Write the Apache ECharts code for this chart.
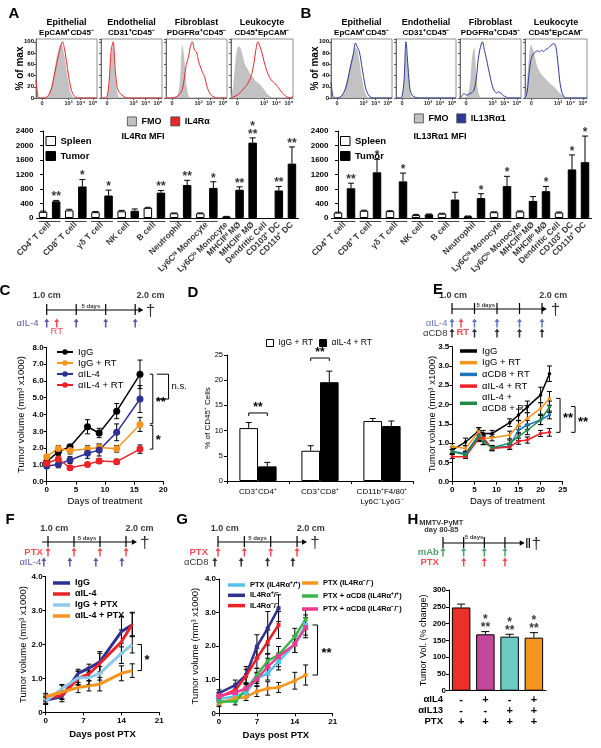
<!DOCTYPE html>
<html>
<head>
<meta charset="utf-8">
<script src="https://cdn.jsdelivr.net/npm/echarts@6.0.0/dist/echarts.min.js"></script>
<style>html,body{margin:0;padding:0;background:#fff;}#chart{width:601px;height:748px;}</style>
</head>
<body>
<div id="chart"></div>
<script>
// ================= DATA =================
// Panels A / B : flow histograms, 31 bins along the display axis, % of max
const histTickBins = [3, 16, 22, 28];
const histTickLabels = ['0', '10³', '10⁴', '10⁵'];
const histTitles1 = ['Epithelial', 'Endothelial', 'Fibroblast', 'Leukocyte'];
const histTitles2 = ['EpCAM⁺CD45⁻', 'CD31⁺CD45⁻', 'PDGFRα⁺CD45⁻', 'CD45⁺EpCAM⁻'];

const fmoA_epi  = [0,0,0,0,0,2,6,15,30,50,70,85,95,92,75,50,28,10,3,0,0,0,0,0,0,0,0,0,0,0,0];
const il4A_epi  = [32,2,0,0,0,1,4,10,22,40,58,75,90,100,88,65,40,20,8,3,1,0,0,0,0,0,0,0,0,0,0];
const fmoA_endo = [0,0,0,2,20,75,95,40,8,1,0,0,0,0,0,0,0,0,0,0,0,0,0,0,0,0,0,0,0,0,0];
const il4A_endo = [0,0,0,3,30,85,100,50,18,10,6,3,1,0,0,0,0,0,0,0,0,0,0,0,0,0,0,0,0,0,0];
const fmoA_fib  = [0,0,0,0,0,2,8,35,95,70,25,5,0,0,0,0,0,0,0,0,0,0,0,0,0,0,0,0,0,0,0];
const il4A_fib  = [0,0,0,0,1,2,4,8,15,35,60,72,92,100,85,82,65,55,45,38,22,12,6,3,1,0,0,0,0,0,0];
const fmoA_leu  = [0,20,60,88,92,85,70,58,52,45,40,35,30,27,24,20,15,10,6,3,1,0,0,0,0,0,0,0,0,0,0];
const il4A_leu  = [0,2,3,5,8,12,16,20,25,32,42,60,85,100,92,80,65,52,42,35,30,27,23,18,13,8,5,2,1,0,4];

const fmoB_epi   = [0,0,0,0,1,4,10,20,35,52,68,82,90,85,65,40,20,8,2,0,0,0,0,0,0,0,0,0,0,0,0];
const il13B_epi  = [28,2,0,0,1,3,8,15,28,45,62,78,98,90,82,60,38,18,8,3,1,0,0,0,0,0,0,0,0,0,0];
const fmoB_endo  = [0,0,0,2,25,85,60,10,1,0,0,0,0,0,0,0,0,0,0,0,0,0,0,0,0,0,0,0,0,0,0];
const il13B_endo = [2,0,0,3,30,100,55,15,5,2,1,0,0,0,0,0,0,0,0,0,0,0,0,0,0,0,0,0,0,0,0];
const fmoB_fib   = [0,0,0,2,8,30,75,90,40,10,2,0,0,0,0,0,0,0,0,0,0,0,0,0,0,0,0,0,0,0,0];
const il13B_fib  = [0,4,8,5,6,8,10,15,35,70,90,100,85,70,52,35,20,12,9,11,9,5,3,1,0,0,0,0,0,0,0];
const fmoB_leu   = [0,30,75,95,85,70,55,48,42,38,34,30,26,23,20,16,12,8,5,2,0,0,0,0,0,0,0,0,0,0,0];
const il13B_leu  = [0,10,45,70,78,82,84,82,85,83,86,88,92,95,97,90,60,25,8,2,0,0,0,0,0,0,0,0,0,0,0];

// Panels A / B : MFI bars
const cellTypes = ['CD4⁺ T cell','CD8⁺ T cell','γδ T cell','NK cell','B cell','Neutrophil','Ly6Cʰⁱ Monocyte','Ly6Cˡᵒ Monocyte','MHCIIʰⁱ MØ','MHCIIˡᵒ MØ','Dendritic Cell','CD103⁺ DC','CD11b⁺ DC'];
const mfiTicks = [0, 400, 800, 1200, 1600, 2000, 2400];
const aSpleen    = [170,210,160,185,280,130,130,40,null,null,null,null,null];
const aSpleenErr = [20,30,20,25,15,10,10,5,null,null,null,null,null];
const aTumor     = [460,870,620,200,700,910,830,null,780,2080,null,760,1500];
const aTumorErr  = [25,190,150,50,60,130,170,null,80,130,null,110,460];
const aStars     = ['**','*','*','','**','**','*','','**','*\n**','','**','**'];
const bSpleen    = [150,200,190,80,120,50,160,180,null,null,150,null,null];
const bSpleenErr = [10,15,10,20,10,5,10,15,null,null,15,null,null];
const bTumor     = [820,1260,1010,100,510,550,880,null,470,740,null,1340,1540];
const bTumorErr  = [140,360,230,10,200,120,270,null,120,130,null,400,720];
const bStars     = ['**','*','*','','','*','*','','','*','','*','*'];

// Panel C
const cDays = [0,2,4,7,9,12,16];
const cIgG = [1.19,1.79,2.08,3.27,2.9,4.2,6.39];     const cIgGErr = [0.15,0.2,0.12,0.42,0.28,0.45,0.85];
const cIgGRT = [1.49,1.98,1.85,1.94,2.04,1.96,3.41]; const cIgGRTErr = [0.12,0.18,0.2,0.2,0.2,0.2,0.42];
const cAIL4 = [0.93,1.03,1.29,1.69,1.88,2.94,4.92];  const cAIL4Err = [0.12,0.2,0.2,0.3,0.35,0.5,0.8];
const cAIL4RT = [1.1,1.35,0.83,1.03,1.23,1.19,1.94]; const cAIL4RTErr = [0.15,0.2,0.12,0.08,0.15,0.15,0.25];
const cSig = [[20.9,6.4,4.92,'n.s.'],[18.2,6.4,3.45,'**'],[18.2,3.35,1.94,'*']];

// Panel D
const dCats = ['CD3⁺CD4⁺','CD3⁺CD8⁺','CD11b⁺F4/80⁺\nLy6C⁻Ly6G⁻'];
const dIgGRT = [10.5,6.0,11.9];  const dIgGRTErr = [1.1,1.0,0.5];
const dAIL4RT = [2.9,19.6,10.9]; const dAIL4RTErr = [0.8,2.2,1.0];
const dSigText = ['**','**',''];
const dSigLevel = [13.5,24.4,null];

// Panel E
const eDays = [0,3,6,7,9,13,15,17,20,22];
const eIgG = [0.82,1.03,1.32,1.25,1.25,1.53,1.73,1.94,2.25,2.8];
const eIgGErr = [0.08,0.1,0.08,0.08,0.08,0.1,0.15,0.15,0.2,0.2];
const eIgGRT = [0.91,0.86,1.3,1.12,1.14,1.21,1.47,1.64,1.9,2.16];
const eIgGRTErr = [0.08,0.08,0.1,0.08,0.08,0.1,0.12,0.15,0.15,0.18];
const eCD8RT = [0.78,0.73,1.21,1.04,0.88,0.92,1.34,1.47,1.6,1.73];
const eCD8RTErr = [0.06,0.06,0.1,0.08,0.06,0.08,0.1,0.12,0.12,0.1];
const eIL4RT = [0.65,0.65,1.12,1.14,0.86,0.9,1.05,1.08,1.25,1.28];
const eIL4RTErr = [0.05,0.05,0.08,0.08,0.06,0.06,0.08,0.08,0.08,0.1];
const eIL4CD8RT = [0.78,0.7,1.17,1.04,0.88,1.0,1.17,1.34,1.6,1.94];
const eIL4CD8RTErr = [0.06,0.06,0.1,0.08,0.06,0.08,0.1,0.12,0.12,0.15];
const eSig = [[24.4,2.16,1.28,'**'],[27.8,1.95,1.28,'**']];

// Panel F
const fDays = [0,3,6,8,10,14,16];
const fIgG = [0.36,0.46,1.15,1.3,1.49,2.38,2.58];   const fIgGErr = [0.1,0.15,0.12,0.12,0.3,0.45,0.35];
const fAIL4 = [0.41,0.5,1.0,1.13,1.44,2.08,2.6];    const fAIL4Err = [0.1,0.12,0.2,0.2,0.3,0.35,0.35];
const fIgGPTX = [0.33,0.7,1.02,1.02,1.15,1.74,2.0];  const fIgGPTXErr = [0.1,0.12,0.2,0.2,0.2,0.3,0.25];
const fAIL4PTX = [0.46,0.6,0.73,0.78,0.83,1.15,1.23]; const fAIL4PTXErr = [0.1,0.2,0.15,0.15,0.2,0.22,0.2];
const fSig = [[17.7,2.0,1.23,'*']];

// Panel G
const gDays = [0,3,5,7,9,11,14,16];
const gPTXwt = [0.43,0.5,0.62,1.04,1.19,1.54,2.06,2.63];   const gPTXwtErr = [0.1,0.1,0.15,0.15,0.2,0.25,0.25,0.3];
const gHet = [0.6,0.84,1.14,1.99,2.53,3.13];               const gHetErr = [0.1,0.15,0.25,0.35,0.5,0.4];
const gKO = [0.48,0.69,1.11,1.64,2.13,2.63];               const gKOErr = [0.1,0.1,0.2,0.3,0.35,0.4];
const gPTXko = [0.3,0.45,0.48,0.65,0.74,0.77,0.97,1.14];   const gPTXkoErr = [0.1,0.1,0.1,0.15,0.2,0.15,0.25,0.3];
const gPTXCD8wt = [0.35,0.35,0.71,1.14,1.56,1.74,2.28,2.8]; const gPTXCD8wtErr = [0.1,0.1,0.15,0.2,0.2,0.25,0.25,0.28];
const gPTXCD8ko = [0.52,0.62,0.74,1.02,1.39,1.69,2.06,2.55]; const gPTXCD8koErr = [0.1,0.1,0.15,0.2,0.25,0.3,0.25,0.3];
const gSig = [[18.2,2.63,1.14,'**']];

// Panel H
const hGroups = ['IgG','αIL4','αIL13','αIL4 + αIL13'];
const hVals = [248,168,161,158];
const hErr = [10,8,7,15];
const hStars = ['','*\n**','*\n**','*\n**'];
const hRowNames = ['αIL4','αIL13','PTX'];
const hRowIL4 = ['-','+','-','+'];
const hRowIL13 = ['-','-','+','+'];
const hRowPTX = ['+','+','+','+'];

// ================= STYLE / BUILD =================
const FONT = '"Liberation Sans", Arial, Helvetica, sans-serif';
const C_RED = '#ec2227', C_DBLUE = '#2e3192', C_ORANGE = '#f7941d', C_BLUE = '#1c75bc',
      C_GREEN = '#1f8a45', C_LBLUE = '#8ecae9', C_CYAN = '#55c2ec', C_LGREEN = '#3ab54a', C_PINK = '#ec3c90';
const hColors = ['#e8312a','#c4479b','#6cc9c3','#f7941d'];
const ARROW = 'path://M5,0 L10,6 L6.5,6 L6.5,16 L3.5,16 L3.5,6 L0,6 Z';

const option = {animation:false, backgroundColor:'#ffffff', textStyle:{fontFamily:FONT},
  grid:[], xAxis:[], yAxis:[], series:[], legend:[], graphic:[]};
const AXL = {show:true, lineStyle:{color:'#000', width:1}};
const TICK = {show:true, length:3, inside:false, lineStyle:{color:'#000', width:1}};
function F(size, bold, color){ return {fontSize:size, fontWeight:bold?'bold':'normal', color:color||'#000', fontFamily:FONT}; }
function addGrid(l,t,w,h,extra){ option.grid.push(Object.assign({left:l, top:t, width:w, height:h, outerBoundsMode:'none', containLabel:false}, extra||{})); return option.grid.length-1; }
function addX(o){ option.xAxis.push(Object.assign({nameMoveOverlap:false}, o)); return option.xAxis.length-1; }
function addY(o){ option.yAxis.push(Object.assign({nameMoveOverlap:false}, o)); return option.yAxis.length-1; }
function addS(o){ option.series.push(o); return o; }
function gtext(x,y,t,size,bold,color,align){
  option.graphic.push({type:'text', x:x, y:y, silent:true,
    style:{text:t, font:(bold?'bold ':'')+size+'px '+FONT, fill:color||'#000', align:align||'center', verticalAlign:'middle'}});
}
function errBars(xi, yi, pts, o){
  addS({type:'custom', xAxisIndex:xi, yAxisIndex:yi, z:o.z||4, clip:false, silent:true, encode:{x:0, y:1},
    data: pts,
    renderItem:(params, api)=>{
      const x=api.value(0), y=api.value(1), e=api.value(2);
      const top=api.coord([x, y+e]); const bot=api.coord([x, o.up ? y : y-e]);
      const dx = o.dx ? o.dx(api) : 0;
      const cx = top[0]+dx, w=o.cap;
      const st={stroke:o.color||'#000', lineWidth:o.lw||1};
      const ch=[{type:'line', shape:{x1:cx,y1:bot[1],x2:cx,y2:top[1]}, style:st},
                {type:'line', shape:{x1:cx-w,y1:top[1],x2:cx+w,y2:top[1]}, style:st}];
      if(!o.up) ch.push({type:'line', shape:{x1:cx-w,y1:bot[1],x2:cx+w,y2:bot[1]}, style:st});
      return {type:'group', children:ch};
    }});
}
function vBrackets(xi, yi, items, o){
  addS({type:'custom', xAxisIndex:xi, yAxisIndex:yi, clip:false, silent:true, z:6, encode:{x:0, y:[1,2]},
    data: items.map(it=>[it[0],it[1],it[2]]),
    renderItem:(params, api)=>{
      const it = items[params.dataIndex];
      const p1 = api.coord([api.value(0), api.value(1)]), p2 = api.coord([api.value(0), api.value(2)]);
      const arm = o.arms[params.dataIndex];
      const star = it[3].indexOf('*') >= 0;
      return {type:'group', children:[
        {type:'polyline', shape:{points:[[p1[0]-arm,p1[1]],[p1[0],p1[1]],[p2[0],p2[1]],[p2[0]-arm,p2[1]]]}, style:{stroke:'#000', lineWidth:1, fill:null}},
        {type:'text', style:{text:it[3], x:p1[0]+o.gap, y:(p1[1]+p2[1])/2 + (star?3:0),
          font:(star?'bold 13px ':'9.5px ')+FONT, fill:'#000', align:'left', verticalAlign:'middle'}}
      ]};
    }});
}

// ---------- Histograms ----------
function histPanel(boxes, pairs, lineColor, lineName){
  boxes.forEach((b,k)=>{
    const gi = addGrid(b[0], 39, b[1]-b[0], 59, {show:true, borderColor:'#777', borderWidth:0.8});
    const xi = addX({gridIndex:gi, type:'category', boundaryGap:false, data:pairs[k][0].map((_,i)=>String(i)),
      axisLine:{show:true, lineStyle:{color:'#555', width:0.8}},
      axisTick:{show:true, length:2, interval:(i)=>histTickBins.includes(i), lineStyle:{color:'#555'}},
      axisLabel:Object.assign(F(5.5,true,'#222'), {show:true, margin:2, interval:(i)=>histTickBins.includes(i),
        formatter:(v,i)=>histTickLabels[histTickBins.indexOf(i)] || ''}),
      splitLine:{show:false}});
    const yi = addY({gridIndex:gi, type:'value', min:0, max:105, interval:20,
      axisLine:{show:true, lineStyle:{color:'#555', width:0.8}}, axisTick:{show:true, length:2, lineStyle:{color:'#555'}},
      axisLabel:Object.assign(F(6,true), {show:k===0, margin:2, showMaxLabel:false}), splitLine:{show:false},
      name: k===0 ? '% of max' : '', nameLocation:'middle', nameGap:11, nameTextStyle:F(10,true)});
    addS({type:'line', name:'FMO', xAxisIndex:xi, yAxisIndex:yi, data:pairs[k][0], showSymbol:false, smooth:0.3, silent:true,
      lineStyle:{width:0, color:'#c2c2c2'}, itemStyle:{color:'#c2c2c2'}, areaStyle:{color:'#c2c2c2', opacity:1}, z:2});
    addS({type:'line', name:lineName, xAxisIndex:xi, yAxisIndex:yi, data:pairs[k][1], showSymbol:false, smooth:0.3, silent:true,
      lineStyle:{width:1, color:lineColor}, itemStyle:{color:lineColor}, z:3});
  });
}
const boxesA = [[36,97],[101,162],[166,227],[231,293]];
const boxesB = [[331,392],[396,456],[460,521],[525,587]];
histPanel(boxesA, [[fmoA_epi,il4A_epi],[fmoA_endo,il4A_endo],[fmoA_fib,il4A_fib],[fmoA_leu,il4A_leu]], '#e8272d', 'IL4Rα');
histPanel(boxesB, [[fmoB_epi,il13B_epi],[fmoB_endo,il13B_endo],[fmoB_fib,il13B_fib],[fmoB_leu,il13B_leu]], '#2b3a9a', 'IL13Rα1');
[boxesA, boxesB].forEach(bx=>bx.forEach((b,k)=>{
  gtext((b[0]+b[1])/2, 23, histTitles1[k], 9, true);
  gtext((b[0]+b[1])/2, 33, histTitles2[k], 8, true);
}));
option.legend.push({left:122, top:111.5, itemWidth:9, itemHeight:9, itemGap:9, selectedMode:false,
  data:[{name:'FMO', icon:'rect', itemStyle:{color:'#c2c2c2', borderColor:'#444', borderWidth:0.8}},
        {name:'IL4Rα', icon:'rect', itemStyle:{color:'#e8272d', borderColor:'#444', borderWidth:0.8}}],
  textStyle:F(9,true)});
option.legend.push({left:409, top:108.5, itemWidth:9, itemHeight:9, itemGap:8, selectedMode:false,
  data:[{name:'FMO', icon:'rect', itemStyle:{color:'#c2c2c2', borderColor:'#444', borderWidth:0.8}},
        {name:'IL13Rα1', icon:'rect', itemStyle:{color:'#2b3a9a', borderColor:'#444', borderWidth:0.8}}],
  textStyle:F(9,true)});

// ---------- MFI bar panels ----------
function slotsOf(sp, tu){
  let s=0; const out=[];
  sp.forEach((v,i)=>{
    const both = v!=null && tu[i]!=null;
    if(both){ out.push({cat:i, sp:s, tu:s+1, center:s+0.5, pair:true}); s+=2; }
    else { out.push({cat:i, sp:s, tu:s, center:s, pair:false}); s+=1; }
  });
  return {list:out, n:s};
}
function mfiPanel(left, width, sp, spE, tu, tuE, stars, legendLeft){
  const S = slotsOf(sp, tu);
  const gi = addGrid(left, 131, width, 87);
  const xi = addX({gridIndex:gi, type:'value', min:-0.5, max:S.n-0.5, axisLine:AXL, axisTick:{show:false}, axisLabel:{show:false}, splitLine:{show:false}});
  const yi = addY({gridIndex:gi, type:'value', min:mfiTicks[0], max:mfiTicks[mfiTicks.length-1], interval:mfiTicks[1]-mfiTicks[0],
    axisLine:AXL, axisTick:TICK, axisLabel:Object.assign(F(8,true), {margin:3, formatter:(v)=>String(v)}), splitLine:{show:false}});
  const spData = S.list.filter(o=>sp[o.cat]!=null).map(o=>[o.sp, sp[o.cat]]);
  const tuData = S.list.filter(o=>tu[o.cat]!=null).map(o=>[o.tu, tu[o.cat]]);
  addS({type:'bar', name:'Spleen', xAxisIndex:xi, yAxisIndex:yi, data:spData, barWidth:8.5, barGap:'-100%', silent:true,
    itemStyle:{color:'#ffffff', borderColor:'#000', borderWidth:1}});
  addS({type:'bar', name:'Tumor', xAxisIndex:xi, yAxisIndex:yi, data:tuData, barWidth:8.5, barGap:'-100%', silent:true,
    itemStyle:{color:'#000', borderColor:'#000', borderWidth:1}});
  errBars(xi, yi, S.list.filter(o=>sp[o.cat]!=null).map(o=>[o.sp, sp[o.cat], spE[o.cat]]), {up:true, cap:3});
  errBars(xi, yi, S.list.filter(o=>tu[o.cat]!=null).map(o=>[o.tu, tu[o.cat], tuE[o.cat]]), {up:true, cap:3});
  addS({type:'scatter', xAxisIndex:xi, yAxisIndex:yi, symbolSize:1, itemStyle:{color:'rgba(0,0,0,0)'}, clip:false, silent:true, z:7,
    data:S.list.filter(o=>tu[o.cat]!=null && stars[o.cat]).map(o=>({value:[o.tu, tu[o.cat]+tuE[o.cat]], label:{formatter:stars[o.cat]}})),
    label:{show:true, position:'top', distance:-1, fontSize:12, fontWeight:'bold', color:'#000', lineHeight:8, align:'center'}});
  addS({type:'custom', xAxisIndex:xi, yAxisIndex:yi, clip:false, silent:true, encode:{x:[0,1], y:2},
    data:S.list.filter(o=>o.pair).map(o=>[o.sp, o.tu, 0]),
    renderItem:(p, api)=>{
      const a=api.coord([api.value(0)-0.33, 0]), b=api.coord([api.value(1)+0.33, 0]);
      return {type:'line', shape:{x1:a[0], y1:a[1]+3.5, x2:b[0], y2:b[1]+3.5}, style:{stroke:'#444', lineWidth:1}};
    }});
  addS({type:'scatter', xAxisIndex:xi, yAxisIndex:yi, symbolSize:1, itemStyle:{color:'rgba(0,0,0,0)'}, clip:false, silent:true,
    data:S.list.map(o=>({value:[o.center, 0], label:{formatter:cellTypes[o.cat]}})),
    label:{show:true, position:'bottom', distance:5, rotate:45, align:'right', verticalAlign:'middle', fontSize:8.5, fontWeight:'bold', color:'#000'}});
  option.legend.push({left:legendLeft, top:131, orient:'vertical', itemWidth:9.5, itemHeight:9, itemGap:5, selectedMode:false,
    data:[{name:'Spleen', icon:'rect', itemStyle:{color:'#fff', borderColor:'#000', borderWidth:1}},
          {name:'Tumor', icon:'rect', itemStyle:{color:'#000', borderColor:'#000', borderWidth:1}}],
    textStyle:Object.assign(F(9.5,true), {lineHeight:10})});
}
mfiPanel(36.5, 262, aSpleen, aSpleenErr, aTumor, aTumorErr, aStars, 40.5);
mfiPanel(331.5, 260, bSpleen, bSpleenErr, bTumor, bTumorErr, bStars, 335);
gtext(143, 137, 'IL4Rα MFI', 9, true);
gtext(440, 137, 'IL13Rα1 MFI', 9, true);

// ---------- Timelines ----------
function timeline(t){
  const left = t.x0 + t.dMin*t.ppd, width=(t.dMax-t.dMin)*t.ppd;
  const gi = addGrid(left, t.lineY-25, width, 50);
  const xi = addX({gridIndex:gi, type:'value', min:t.dMin, max:t.dMax, show:false, splitLine:{show:false}});
  const yi = addY({gridIndex:gi, type:'value', min:-25, max:25, inverse:true, show:false, splitLine:{show:false}});
  addS({type:'custom', xAxisIndex:xi, yAxisIndex:yi, clip:false, silent:true, encode:{x:[0,1], y:2},
    data:[[t.from, t.to, 0]],
    renderItem:(p, api)=>{
      const a=api.coord([api.value(0),0]), b=api.coord([api.value(1),0]);
      return {type:'group', children:[
        {type:'line', shape:{x1:a[0],y1:a[1],x2:b[0]-2,y2:b[1]}, style:{stroke:'#000', lineWidth:1.2}},
        {type:'polygon', shape:{points:[[b[0],b[1]],[b[0]-5,b[1]-2.8],[b[0]-5,b[1]+2.8]]}, style:{fill:'#000'}}
      ]};
    }});
  const tickSeries = (list, up, dn)=>addS({type:'custom', xAxisIndex:xi, yAxisIndex:yi, clip:false, silent:true, encode:{x:0, y:1},
    data:list.map(d=>[d,0]),
    renderItem:(p, api)=>{ const a=api.coord([api.value(0),0]);
      return {type:'line', shape:{x1:a[0],y1:a[1]-up,x2:a[0],y2:a[1]+dn}, style:{stroke:'#000', lineWidth:1.2}}; }});
  tickSeries(t.ticks, 6, 5);
  if(t.breaks) tickSeries(t.breaks, 5, 5);
  t.rows.forEach(r=>addS({type:'scatter', xAxisIndex:xi, yAxisIndex:yi, clip:false, silent:true, symbol:ARROW, symbolSize:[5,9],
    itemStyle:{color:r.color}, data:r.days.map(d=>[d, r.off])}));
  addS({type:'scatter', xAxisIndex:xi, yAxisIndex:yi, clip:false, silent:true, symbolSize:1, itemStyle:{color:'rgba(0,0,0,0)'},
    data:t.texts.map(o=>({value:[o.d,o.off], label:{show:true, position:'inside', formatter:o.t, color:o.color||'#000',
      fontSize:o.size||9, fontWeight:o.w||'bold', align:o.align||'center', verticalAlign:'middle', fontFamily:FONT}})),
    label:{show:true}});
}
timeline({x0:46.7, ppd:5.9, dMin:-6, dMax:20, lineY:310, from:0, to:16.4, ticks:[0,5,10,15],
  rows:[{color:C_DBLUE, days:[0,5,10,15], off:13}, {color:C_RED, days:[1.7], off:13}],
  texts:[{t:'1.0 cm', d:0, off:-14}, {t:'2.0 cm', d:17.6, off:-14}, {t:'5 days', d:7.5, off:-4, size:6},
    {t:'†', d:17.6, off:1, size:17, w:'normal'},
    {t:'αIL-4', d:-1.4, off:13, align:'right', color:C_DBLUE, w:'normal', size:9.5},
    {t:'RT', d:1.7, off:21, color:C_RED, w:'normal', size:9.5}]});
timeline({x0:452, ppd:4.5, dMin:-8, dMax:24, lineY:309, from:0, to:21.1, ticks:[0,5,10,15,20],
  rows:[{color:'#3a56a8', days:[0,5,10,15,20], off:14}, {color:C_RED, days:[2], off:14}, {color:'#000', days:[0,5,10,15,20], off:24}],
  texts:[{t:'1.0 cm', d:0.2, off:-13}, {t:'2.0 cm', d:22.5, off:-13}, {t:'5 days', d:7.5, off:-4, size:6},
    {t:'†', d:23, off:1, size:17, w:'normal'},
    {t:'αIL-4', d:-1, off:14, align:'right', color:'#3a56a8', w:'normal', size:9.5},
    {t:'αCD8', d:-1, off:24, align:'right', w:'normal', size:9.5},
    {t:'RT', d:2.4, off:23, color:C_RED, w:'bold', size:9.5}]});
timeline({x0:48, ppd:5.2, dMin:-6, dMax:20, lineY:542, from:-1.15, to:17.1, ticks:[0,5,10,15],
  rows:[{color:C_RED, days:[0,5,10,15], off:10}, {color:C_DBLUE, days:[-0.8,4.2,9.2,14.2], off:20}],
  texts:[{t:'1.0 cm', d:1.2, off:-13}, {t:'2.0 cm', d:17.6, off:-13}, {t:'5 days', d:7.5, off:-4, size:6},
    {t:'†', d:18.6, off:1, size:17, w:'normal'},
    {t:'PTX', d:-1, off:10, align:'right', color:C_RED, size:9.5},
    {t:'αIL-4', d:-1.3, off:20, align:'right', color:C_DBLUE, w:'normal', size:9.5}]});
timeline({x0:218, ppd:5.27, dMin:-7, dMax:20, lineY:542, from:0, to:16.9, ticks:[0,5,10,15],
  rows:[{color:C_RED, days:[0,5,10,15], off:10}, {color:'#000', days:[-0.6,4.4,9.4,14.2], off:20}],
  texts:[{t:'1.0 cm', d:1.3, off:-13}, {t:'2.0 cm', d:17.6, off:-13}, {t:'5 days', d:7.5, off:-4, size:6},
    {t:'†', d:18.4, off:1, size:17, w:'normal'},
    {t:'PTX', d:-1.9, off:10, align:'right', color:C_RED, size:9.5},
    {t:'αCD8', d:-1.8, off:20, align:'right', w:'normal', size:9.5}]});
timeline({x0:443, ppd:4.13, dMin:-6, dMax:24, lineY:543, from:0, to:19.8, ticks:[0,5,10,15], breaks:[20.3,20.9],
  rows:[{color:C_GREEN, days:[0,5,10,15], off:9}, {color:C_RED, days:[5,10,15], off:19}],
  texts:[{t:'MMTV-PyMT', d:-0.4, off:-20, size:7.5}, {t:'day 80-85', d:-0.4, off:-13, size:7.5},
    {t:'5 days', d:7.5, off:-6, size:6}, {t:'†', d:22.6, off:1, size:17, w:'normal'},
    {t:'mAb', d:-1, off:9, align:'right', color:C_GREEN, size:9.5},
    {t:'PTX', d:-1, off:19, align:'right', color:C_RED, size:9.5}]});

// ---------- Line panels ----------
function linePanel(p){
  const gi = addGrid(p.left, p.top, p.width, p.height);
  const xi = addX({gridIndex:gi, type:'value', min:p.xMin, max:p.xMax, interval:p.xInt, axisLine:AXL, axisTick:TICK,
    axisLabel:Object.assign(F(8,true), {margin:4}), splitLine:{show:false},
    name:p.xName, nameLocation:'middle', nameGap:p.xNameGap, nameTextStyle:F(p.xNameSize||9.5, !!p.xNameBold)});
  const yi = addY({gridIndex:gi, type:'value', min:p.yMin, max:p.yMax, interval:p.yInt, axisLine:AXL, axisTick:TICK,
    axisLabel:Object.assign(F(8,true), {margin:3, formatter:p.yFmt}), splitLine:{show:false},
    name:p.yName, nameLocation:'middle', nameGap:p.yNameGap, nameTextStyle:F(9.5,false)});
  const colorOf = {};
  p.series.forEach(s=>{
    colorOf[s.name] = s.color;
    addS({type:'line', name:s.name, xAxisIndex:xi, yAxisIndex:yi, data:s.x.map((d,i)=>[d, s.y[i]]), silent:true,
      symbol:s.symbol, symbolSize:s.size, showSymbol:s.symbol!=='none', lineStyle:{color:s.color, width:s.width},
      itemStyle:{color:s.color}, z:3});
    errBars(xi, yi, s.x.map((d,i)=>[d, s.y[i], s.err[i]]), {cap:2.5, color:'#000', z:2});
  });
  if(p.sig) vBrackets(xi, yi, p.sig, {arms:p.arms, gap:p.sigGap||3});
  (p.legends||[]).forEach(l=>{
    const lg = Object.assign({orient:'vertical', selectedMode:false}, l);
    if(l.icon === 'rect') lg.data = l.data.map(n=>({name:n, icon:'rect', itemStyle:{color:colorOf[n], borderWidth:0}}));
    option.legend.push(lg);
  });
  return {xi, yi};
}
const fmt1 = v=>v.toFixed(1);
const fmt0 = v=>v===0 ? '0' : v.toFixed(1);

linePanel({left:46.7, top:347.3, width:116.6, height:134.4, xMin:0, xMax:20, xInt:5, yMin:0, yMax:8, yInt:1, yFmt:fmt1,
  xName:'Days of treatment', xNameGap:15, yName:'Tumor volume (mm³ x1000)', yNameGap:20,
  series:[
    {name:'IgG', x:cDays, y:cIgG, err:cIgGErr, color:'#000', symbol:'circle', size:7, width:1.5},
    {name:'IgG + RT', x:cDays, y:cIgGRT, err:cIgGRTErr, color:C_ORANGE, symbol:'circle', size:7, width:1.5},
    {name:'αIL-4', x:cDays, y:cAIL4, err:cAIL4Err, color:C_DBLUE, symbol:'circle', size:7, width:1.5},
    {name:'αIL-4 + RT', x:cDays, y:cAIL4RT, err:cAIL4RTErr, color:C_RED, symbol:'circle', size:7, width:1.5}],
  sig:cSig, arms:[11.7,3,3], sigGap:3,
  legends:[{left:51, top:341.5, itemWidth:16, itemHeight:7, itemGap:0, data:['IgG','IgG + RT','αIL-4','αIL-4 + RT'],
    textStyle:Object.assign(F(9.5,false), {lineHeight:11})}]});

linePanel({left:452.3, top:346.7, width:110.4, height:135, xMin:0, xMax:25, xInt:5, yMin:0, yMax:3.5, yInt:0.5, yFmt:fmt1,
  xName:'Days of treatment', xNameGap:15, yName:'Tumor volume (mm³ x1000)', yNameGap:15,
  series:[
    {name:'IgG', x:eDays, y:eIgG, err:eIgGErr, color:'#000', symbol:'circle', size:3.5, width:1.5},
    {name:'IgG + RT', x:eDays, y:eIgGRT, err:eIgGRTErr, color:C_ORANGE, symbol:'circle', size:3.5, width:1.5},
    {name:'αCD8 + RT', x:eDays, y:eCD8RT, err:eCD8RTErr, color:C_BLUE, symbol:'circle', size:3.5, width:1.5},
    {name:'αIL-4 + RT', x:eDays, y:eIL4RT, err:eIL4RTErr, color:C_RED, symbol:'circle', size:3.5, width:1.5},
    {name:'αIL-4 +\nαCD8 + RT', x:eDays, y:eIL4CD8RT, err:eIL4CD8RTErr, color:C_GREEN, symbol:'circle', size:3.5, width:1.5}],
  sig:eSig, arms:[4,4], sigGap:3,
  legends:[{left:455, top:340.5, itemWidth:17, itemHeight:3.5, itemGap:0.7, icon:'rect',
    data:['IgG','IgG + RT','αCD8 + RT','αIL-4 + RT','αIL-4 +\nαCD8 + RT'],
    textStyle:Object.assign(F(9.5,false), {lineHeight:11})}]});

linePanel({left:45.7, top:576.7, width:113.6, height:135.6, xMin:0, xMax:21, xInt:7, yMin:0, yMax:4, yInt:1, yFmt:fmt0,
  xName:'Days post PTX', xNameGap:17, xNameBold:true, yName:'Tumor volume (mm³ x1000)', yNameGap:17,
  series:[
    {name:'IgG', x:fDays, y:fIgG, err:fIgGErr, color:C_DBLUE, symbol:'none', size:0, width:3},
    {name:'αIL-4', x:fDays, y:fAIL4, err:fAIL4Err, color:C_RED, symbol:'none', size:0, width:3},
    {name:'IgG + PTX', x:fDays, y:fIgGPTX, err:fIgGPTXErr, color:C_LBLUE, symbol:'none', size:0, width:3},
    {name:'αIL-4 + PTX', x:fDays, y:fAIL4PTX, err:fAIL4PTXErr, color:C_ORANGE, symbol:'none', size:0, width:3}],
  sig:fSig, arms:[4], sigGap:3,
  legends:[{left:48, top:572.5, itemWidth:17, itemHeight:3.5, itemGap:0, icon:'rect',
    data:['IgG','αIL-4','IgG + PTX','αIL-4 + PTX'], textStyle:Object.assign(F(9,true), {lineHeight:11})}]});

linePanel({left:219, top:579, width:113.7, height:134.3, xMin:0, xMax:21, xInt:7, yMin:0, yMax:4, yInt:1, yFmt:fmt0,
  xName:'Days post PTX', xNameGap:17, xNameBold:true, yName:'Tumor volume (mm³ x1000)', yNameGap:18.5,
  series:[
    {name:'PTX (IL4Rα⁺/⁺)', x:gDays, y:gPTXwt, err:gPTXwtErr, color:C_CYAN, symbol:'rect', size:5, width:2.5},
    {name:'IL4Rα⁺/⁻', x:gDays.slice(0,gHet.length), y:gHet, err:gHetErr, color:C_DBLUE, symbol:'rect', size:4, width:2.5},
    {name:'IL4Rα⁻/⁻', x:gDays.slice(0,gKO.length), y:gKO, err:gKOErr, color:C_RED, symbol:'rect', size:4, width:2.5},
    {name:'PTX (IL4Rα⁻/⁻)', x:gDays, y:gPTXko, err:gPTXkoErr, color:C_ORANGE, symbol:'rect', size:4, width:2.5},
    {name:'PTX + αCD8 (IL4Rα⁺/⁺)', x:gDays, y:gPTXCD8wt, err:gPTXCD8wtErr, color:C_LGREEN, symbol:'rect', size:4, width:2.5},
    {name:'PTX + αCD8 (IL4Rα⁻/⁻)', x:gDays, y:gPTXCD8ko, err:gPTXCD8koErr, color:C_PINK, symbol:'rect', size:5, width:2.5}],
  sig:gSig, arms:[5], sigGap:4,
  legends:[
    {left:223, top:575, itemWidth:17, itemHeight:3.5, itemGap:0.3, icon:'rect',
      data:['PTX (IL4Rα⁺/⁺)','IL4Rα⁺/⁻','IL4Rα⁻/⁻'], textStyle:Object.assign(F(7.5,true), {lineHeight:10})},
    {left:297, top:572.5, itemWidth:16, itemHeight:3.5, itemGap:2, icon:'rect',
      data:['PTX (IL4Rα⁻/⁻)','PTX + αCD8 (IL4Rα⁺/⁺)','PTX + αCD8 (IL4Rα⁻/⁻)'], textStyle:Object.assign(F(7.5,true), {lineHeight:11})}]});

// ---------- Panel D ----------
(function(){
  const gi = addGrid(227, 355, 186, 126);
  const xi = addX({gridIndex:gi, type:'category', data:dCats, axisLine:AXL, axisTick:{show:true, length:3, lineStyle:{color:'#000'}},
    axisLabel:Object.assign(F(8,false), {margin:6, lineHeight:10, interval:0}), splitLine:{show:false}});
  const yi = addY({gridIndex:gi, type:'value', min:0, max:25, interval:5, axisLine:AXL, axisTick:TICK,
    axisLabel:Object.assign(F(7.5,false), {margin:4}), splitLine:{show:false},
    name:'% of CD45⁺ Cells', nameLocation:'middle', nameGap:15, nameTextStyle:F(8,false)});
  addS({type:'bar', name:'IgG + RT', xAxisIndex:xi, yAxisIndex:yi, data:dIgGRT, barWidth:18.6, barGap:'0%', silent:true,
    itemStyle:{color:'#fff', borderColor:'#000', borderWidth:1}});
  addS({type:'bar', name:'αIL-4 + RT', xAxisIndex:xi, yAxisIndex:yi, data:dAIL4RT, barWidth:18.6, barGap:'0%', silent:true,
    itemStyle:{color:'#000', borderColor:'#000', borderWidth:1}});
  errBars(xi, yi, dIgGRT.map((v,i)=>[i, v, dIgGRTErr[i]]), {up:true, cap:3, dx:(api)=>-9.3});
  errBars(xi, yi, dAIL4RT.map((v,i)=>[i, v, dAIL4RTErr[i]]), {up:true, cap:3, dx:(api)=>9.3});
  addS({type:'custom', xAxisIndex:xi, yAxisIndex:yi, clip:false, silent:true, encode:{x:0, y:1},
    data:dSigLevel.map((v,i)=>[i, v]).filter(d=>d[1]!=null),
    renderItem:(p, api)=>{
      const c = api.coord([api.value(0), api.value(1)]);
      const txt = dSigText[api.value(0)];
      return {type:'group', children:[
        {type:'polyline', shape:{points:[[c[0]-9.3,c[1]+3],[c[0]-9.3,c[1]],[c[0]+9.3,c[1]],[c[0]+9.3,c[1]+3]]}, style:{stroke:'#000', lineWidth:1, fill:null}},
        {type:'text', style:{text:txt, x:c[0], y:c[1]+1, align:'center', verticalAlign:'bottom', font:'bold 12px '+FONT, fill:'#000'}}
      ]};
    }});
  option.legend.push({left:261, top:333.5, itemWidth:7, itemHeight:7, itemGap:6, selectedMode:false,
    data:[{name:'IgG + RT', icon:'rect', itemStyle:{color:'#fff', borderColor:'#000', borderWidth:1}},
          {name:'αIL-4 + RT', icon:'rect', itemStyle:{color:'#000', borderColor:'#000', borderWidth:1}}], textStyle:F(8.5,false)});
})();

// ---------- Panel H ----------
(function(){
  const gi = addGrid(449, 590, 97, 100.7);
  const xi = addX({gridIndex:gi, type:'category', data:hGroups, axisLine:AXL, axisTick:{show:false}, axisLabel:{show:false}, splitLine:{show:false}});
  [hRowIL4, hRowIL13, hRowPTX].forEach((row, r)=>{
    addX({gridIndex:gi, type:'category', data:hGroups, position:'bottom', offset:4+11*r,
      axisLine:{show:false}, axisTick:{show:false}, splitLine:{show:false},
      axisLabel:Object.assign(F(11,true), {margin:0, interval:0, formatter:(v,i)=>row[i]}),
      name:hRowNames[r], nameLocation:'start', nameGap:6,
      nameTextStyle:Object.assign(F(9.5,true), {align:'right', verticalAlign:'top'})});
  });
  const yi = addY({gridIndex:gi, type:'value', min:0, max:300, interval:50, axisLine:AXL, axisTick:TICK,
    axisLabel:Object.assign(F(8,true), {margin:3}), splitLine:{show:false},
    name:'Tumor Vol. (% change)', nameLocation:'middle', nameGap:21, nameTextStyle:F(9,false)});
  addS({type:'bar', xAxisIndex:xi, yAxisIndex:yi, barWidth:18.5, silent:true,
    data:hVals.map((v,i)=>({value:v, itemStyle:{color:hColors[i]}})), itemStyle:{borderColor:'#000', borderWidth:1}});
  errBars(xi, yi, hVals.map((v,i)=>[i, v, hErr[i]]), {up:true, cap:4});
  addS({type:'scatter', xAxisIndex:xi, yAxisIndex:yi, symbolSize:1, itemStyle:{color:'rgba(0,0,0,0)'}, clip:false, silent:true, z:7,
    data:hVals.map((v,i)=>({value:[i, v+hErr[i]], label:{formatter:hStars[i]}})).filter((d,i)=>hStars[i]),
    label:{show:true, position:'top', distance:-1, fontSize:12, fontWeight:'bold', color:'#000', lineHeight:8}});
})();

// ---------- Panel letters ----------
[['A',14,14],['B',306,14],['C',5,291],['D',193,293],['E',438,290],['F',10,520],['G',182,520],['H',413,520]]
  .forEach(l=>gtext(l[1], l[2], l[0], 15, true));

const chart = echarts.init(document.getElementById('chart'), null, {width:601, height:748, renderer:'canvas'});
chart.setOption(option);
</script>
</body>
</html>
